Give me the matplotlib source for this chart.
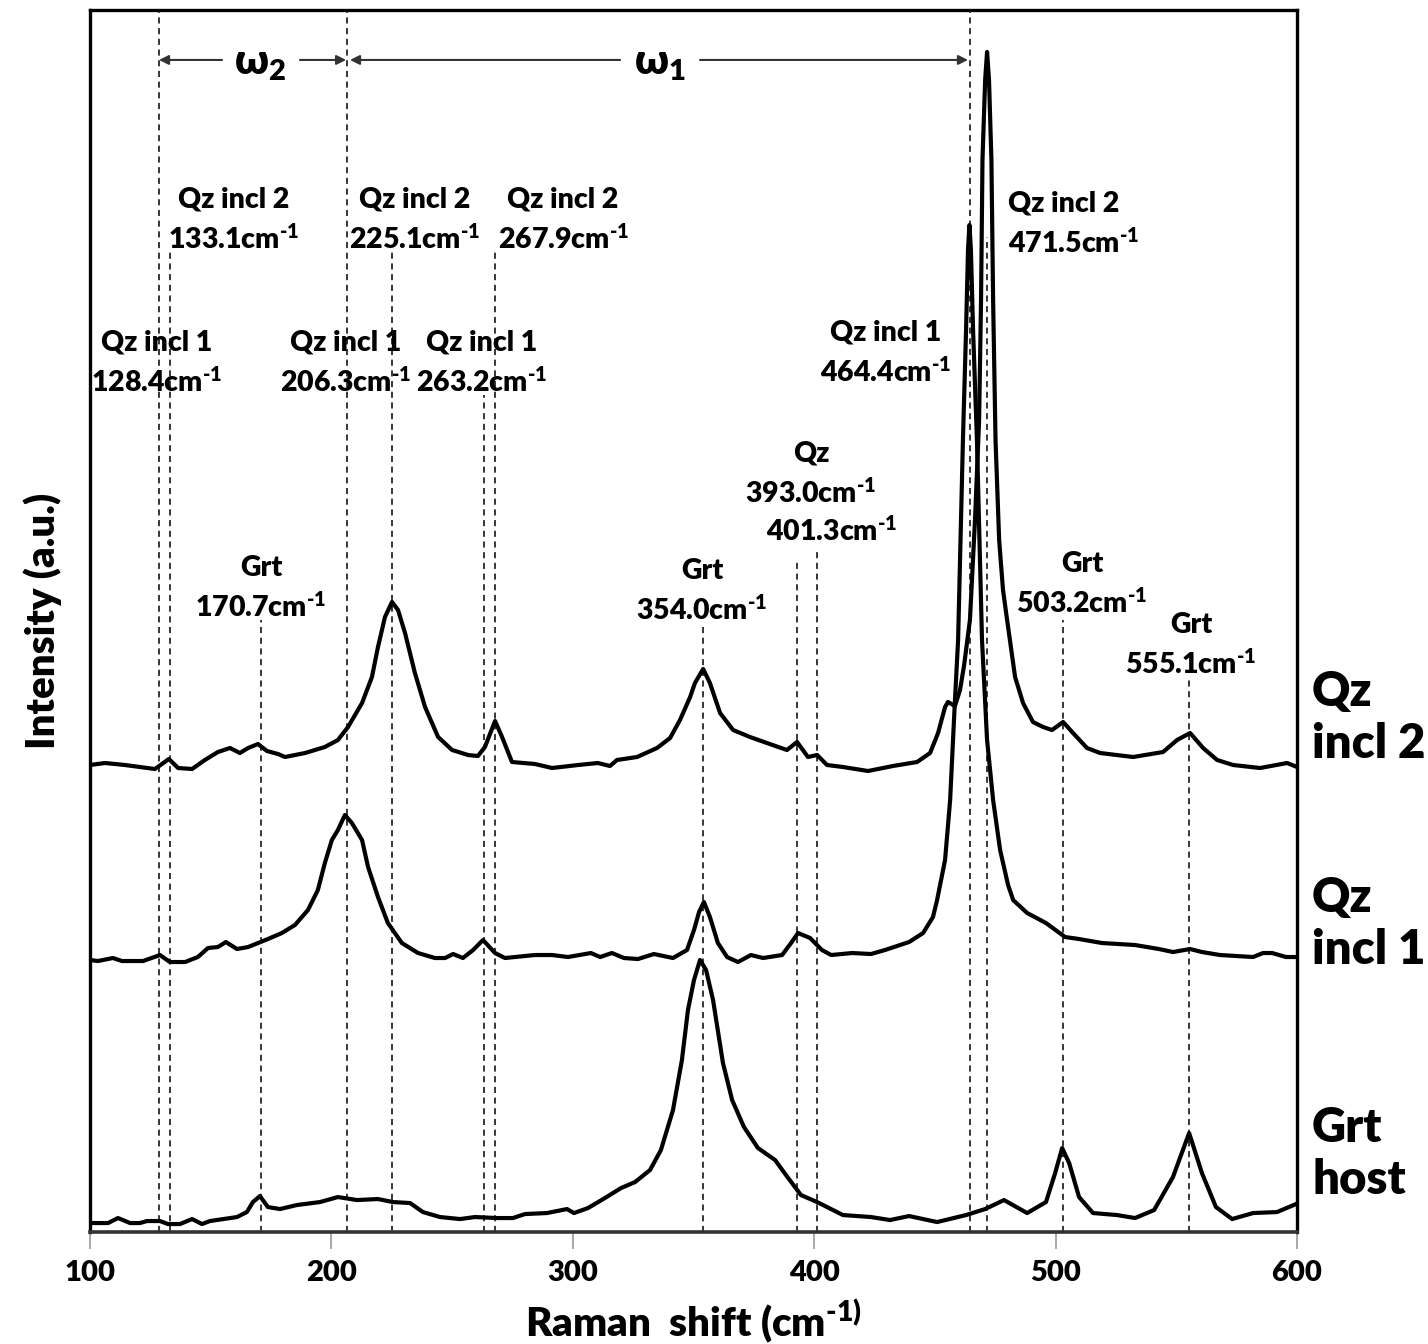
import numpy as np
import matplotlib.pyplot as plt

# fonts: heavy sans everywhere, mathtext in the same family for the cm-1 superscripts
plt.rcParams['font.family'] = ['Lato', 'DejaVu Sans']
plt.rcParams['font.weight'] = 'heavy'
plt.rcParams['mathtext.fontset'] = 'custom'
plt.rcParams['mathtext.rm'] = 'Lato:heavy'
plt.rcParams['mathtext.bf'] = 'Lato:heavy'
plt.rcParams['mathtext.it'] = 'Lato:heavy'

# Qz inclusion 2 spectrum (top)
shift_incl2 = [100.0, 106.2, 114.5, 126.9, 132.7, 136.5, 142.3, 147.6, 153.0, 158.0, 162.1, 165.5,
               169.6, 173.3, 177.9, 180.8, 189.1, 197.3, 202.7, 206.9, 212.7, 216.8, 219.3, 222.2,
               225.1, 227.6, 230.5, 234.6, 238.8, 244.2, 250.0, 256.6, 260.7, 263.6, 267.8, 270.7,
               274.8, 284.3, 291.4, 302.2, 310.4, 315.4, 318.3, 326.6, 334.9, 340.3, 344.4, 348.6,
               350.6, 354.0, 356.8, 361.0, 366.4, 373.4, 380.4, 388.7, 392.9, 397.4, 401.2, 405.3,
               411.9, 422.3, 432.6, 442.6, 448.0, 451.3, 454.2, 455.4, 458.3, 460.4, 462.1, 464.5,
               466.6, 468.3, 469.1, 469.7, 470.8, 471.6, 472.4, 473.4, 474.1, 475.1, 476.6, 478.2,
               479.9, 483.2, 486.5, 490.6, 494.8, 498.5, 503.1, 507.2, 513.0, 518.4, 532.1, 544.5,
               550.3, 555.7, 561.1, 566.9, 573.5, 584.7, 595.9, 600.0]
int_incl2 = [467, 469, 467, 463, 473, 464, 463, 472, 480, 484, 479, 484,
             488, 481, 478, 475, 479, 485, 492, 505, 529, 555, 585, 615,
             630, 622, 599, 559, 525, 495, 482, 477, 476, 485, 511, 495,
             470, 468, 464, 467, 469, 466, 472, 475, 484, 494, 512, 535,
             549, 563, 549, 519, 502, 495, 489, 482, 490, 475, 477, 467,
             465, 461, 466, 470, 479, 499, 525, 530, 526, 542, 567, 612,
             712, 812, 932, 1072, 1152, 1180, 1152, 1072, 932, 792, 692, 642,
             612, 555, 529, 510, 505, 502, 510, 499, 484, 479, 475, 480,
             492, 499, 484, 472, 467, 464, 469, 465]

# Qz inclusion 1 spectrum (middle)
shift_incl1 = [100.0, 103.3, 109.5, 113.3, 122.0, 129.0, 133.1, 139.4, 144.7, 148.9, 153.0, 156.3,
               160.9, 165.5, 169.6, 173.7, 179.5, 184.9, 190.3, 194.4, 197.3, 200.2, 202.7, 205.6,
               208.5, 212.7, 215.2, 219.3, 223.4, 229.2, 235.9, 242.9, 247.1, 250.4, 254.5, 258.7,
               262.8, 267.8, 271.9, 284.3, 291.4, 298.0, 307.5, 311.3, 316.2, 321.2, 327.0, 333.6,
               341.5, 347.3, 350.2, 352.3, 354.3, 356.8, 360.1, 363.9, 368.4, 373.8, 378.8, 386.7,
               390.4, 393.3, 398.3, 403.2, 407.0, 415.7, 423.5, 429.3, 439.3, 445.1, 449.2, 450.9,
               454.2, 456.3, 458.3, 459.6, 461.6, 462.9, 463.7, 464.3, 464.9, 465.8, 467.4, 469.5,
               471.6, 474.1, 477.0, 480.3, 482.4, 488.2, 496.0, 503.9, 509.7, 519.2, 532.9, 542.8,
               548.6, 555.7, 560.6, 568.1, 581.8, 585.9, 589.7, 595.4, 600.0]
int_incl1 = [272, 271, 274, 271, 271, 277, 270, 270, 275, 284, 285, 290,
             283, 285, 289, 293, 299, 307, 322, 342, 369, 392, 402, 417,
             409, 392, 365, 335, 309, 289, 279, 274, 274, 278, 274, 282,
             292, 279, 274, 277, 277, 275, 279, 275, 279, 274, 273, 278,
             274, 282, 302, 320, 330, 315, 289, 275, 270, 277, 274, 277,
             289, 299, 294, 282, 277, 279, 278, 282, 290, 299, 315, 332,
             372, 432, 532, 592, 792, 902, 982, 1007, 982, 902, 792, 592,
             492, 432, 382, 347, 332, 319, 309, 295, 293, 289, 287, 283,
             280, 283, 280, 277, 275, 279, 279, 275, 275]

# Garnet host spectrum (bottom)
shift_host = [100.0, 107.5, 111.6, 116.6, 120.7, 123.6, 129.0, 132.3, 137.3, 142.3, 146.4, 149.7,
              160.9, 165.0, 167.5, 170.4, 173.7, 178.7, 185.7, 195.3, 202.7, 210.6, 219.3, 225.5,
              232.6, 237.9, 245.0, 253.3, 259.5, 268.6, 275.2, 280.2, 289.3, 297.6, 300.5, 306.3,
              313.3, 320.0, 325.8, 332.0, 336.5, 341.5, 345.2, 347.7, 350.2, 352.7, 355.2, 358.1,
              362.2, 366.0, 370.9, 376.7, 383.8, 388.3, 394.5, 401.2, 411.9, 423.5, 431.4, 439.3,
              450.9, 462.9, 470.8, 478.6, 488.2, 496.0, 499.8, 502.7, 505.6, 509.7, 515.5, 525.4,
              532.9, 540.8, 548.6, 555.3, 560.6, 566.4, 573.1, 581.8, 591.7, 599.6]
int_host = [9, 9, 14, 9, 9, 11, 11, 8, 8, 13, 8, 11,
            15, 20, 30, 36, 25, 23, 27, 30, 35, 32, 33, 30,
            29, 20, 15, 13, 15, 14, 14, 18, 19, 23, 19, 24,
            34, 44, 50, 62, 82, 122, 172, 222, 252, 272, 262, 232,
            169, 132, 105, 84, 72, 57, 37, 30, 17, 15, 12, 16,
            10, 17, 23, 32, 19, 30, 59, 84, 69, 35, 19, 17,
            14, 22, 55, 99, 59, 25, 13, 19, 20, 28]

# peak markers: position and how high the dashed line reaches
peak_pos = [128.4, 133.1, 170.7, 206.3, 225.1, 263.2, 267.9, 354.0, 393.0, 401.3, 464.4, 471.5, 503.2, 555.1]
peak_top = [1222, 982, 612, 1222, 982, 837, 982, 607, 670, 684, 1222, 995, 612, 552]

fig, ax = plt.subplots(figsize=(14.28, 13.44), dpi=100)
fig.subplots_adjust(left=0.063, right=0.9083, bottom=0.0833, top=0.9926)

ax.vlines(peak_pos, 0, peak_top, colors='black', linewidth=1.1, linestyles=(0, (4, 3)))

for xs, ys in [(shift_incl2, int_incl2), (shift_incl1, int_incl1), (shift_host, int_host)]:
    ax.plot(xs, ys, color='black', linewidth=3.0, solid_joinstyle='round')

ax.set_xlim(100, 600)
ax.set_ylim(0, 1222)
ax.set_yticks([])
ax.set_xticks([100, 200, 300, 400, 500, 600])
ax.tick_params(axis='x', direction='out', length=12, width=1.2, color='#999999', labelsize=21, pad=8)
for lab in ax.get_xticklabels():
    lab.set_fontweight('heavy')
for side in ['left', 'right', 'top']:
    ax.spines[side].set_linewidth(2.4)
ax.spines['bottom'].set_linewidth(2.6)
ax.spines['bottom'].set_color('#333333')

ax.set_xlabel(r'Raman  shift (cm$^{\text{-1)}}$', fontsize=29, fontweight='heavy', labelpad=8)
ax.set_ylabel('Intensity (a.u.)', fontsize=29, fontweight='heavy', labelpad=20)

# peak labels
sup = r'cm$^{\text{-1}}$'
labels = [
    ('Qz incl 2\n133.1' + sup, 159.7, 1012),
    ('Qz incl 2\n225.1' + sup, 234.6, 1012),
    ('Qz incl 2\n267.9' + sup, 296.0, 1012),
    ('Qz incl 1\n128.4' + sup, 127.8, 869),
    ('Qz incl 1\n206.3' + sup, 206.0, 869),
    ('Qz incl 1\n263.2' + sup, 262.4, 869),
    ('Grt\n170.7' + sup, 170.8, 644),
    ('Grt\n354.0' + sup, 353.5, 641),
    ('Qz\n393.0' + sup, 398.7, 758),
    ('401.3' + sup, 407.4, 701),
    ('Qz incl 1\n464.4' + sup, 429.7, 879),
    ('Grt\n503.2' + sup, 510.9, 648),
    ('Grt\n555.1' + sup, 556.1, 587),
]
for txt, x, y in labels:
    ax.text(x, y, txt, ha='center', va='center', fontsize=20.5, fontweight='heavy',
            linespacing=1.45, multialignment='center')
ax.text(480.3, 1008, 'Qz incl 2\n471.5' + sup, ha='left', va='center', fontsize=20.5,
        fontweight='heavy', linespacing=1.45)

# sample names on the right
for txt, y in [('Qz\nincl 2', 514), ('Qz\nincl 1', 308), ('Grt\nhost', 78)]:
    ax.text(606.2, y, txt, ha='left', va='center', fontsize=34, fontweight='heavy',
            linespacing=1.2, clip_on=False)

# omega ranges
arrow = dict(arrowstyle='-|>', color='#333333', lw=1.5, mutation_scale=14, shrinkA=0, shrinkB=0)
ax.annotate('', xy=(128.6, 1172), xytext=(154.7, 1172), arrowprops=arrow)
ax.annotate('', xy=(206.1, 1172), xytext=(187.0, 1172), arrowprops=arrow)
ax.annotate('', xy=(207.7, 1172), xytext=(319.6, 1172), arrowprops=arrow)
ax.annotate('', xy=(463.7, 1172), xytext=(352.7, 1172), arrowprops=arrow)
ax.text(170.4, 1168, r'ω$_{2}$', ha='center', va='center', fontsize=30, fontweight='heavy')
ax.text(336.0, 1168, r'ω$_{1}$', ha='center', va='center', fontsize=30, fontweight='heavy')

fig.savefig('out.png', dpi=100)
